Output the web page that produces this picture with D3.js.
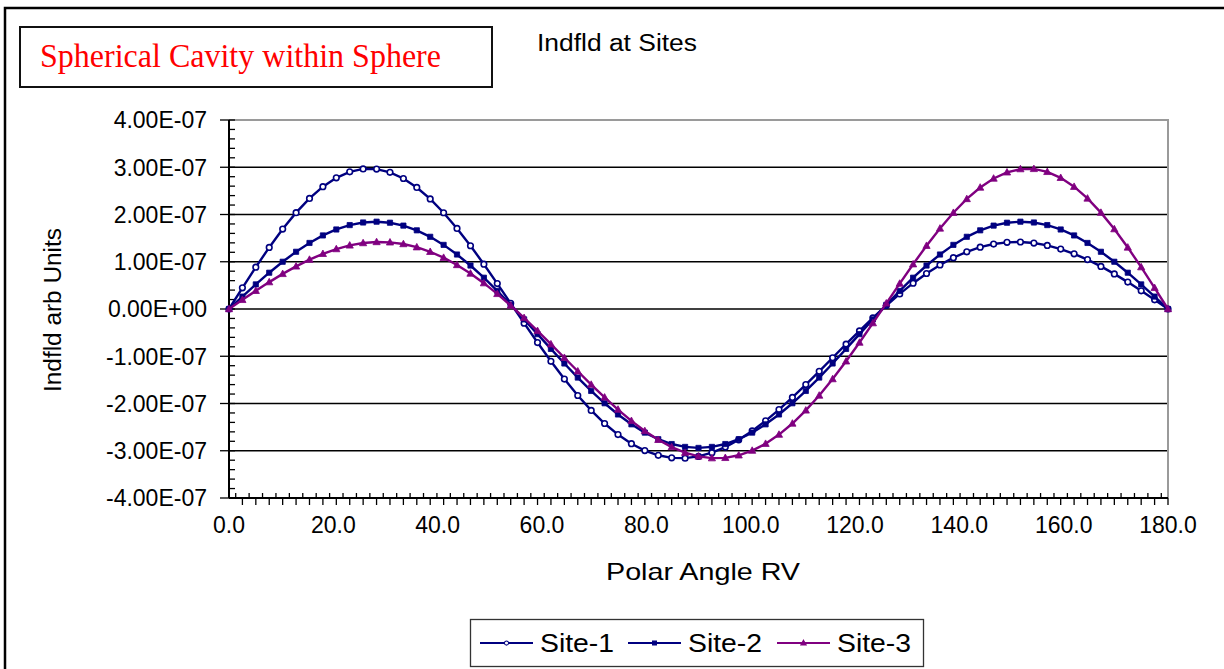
<!DOCTYPE html>
<html>
<head>
<meta charset="utf-8">
<script src="https://cdn.jsdelivr.net/npm/d3@7"></script>
<style>
    html, body { margin: 0; padding: 0; background: #fff; }
    #chart { width: 1224px; height: 669px; }
    text { font-family: "Liberation Sans", Arial, sans-serif; fill: #000; }
</style>
</head>
<body>
<div id="chart"></div>
<script>

// polar angle (degrees)
const angles = [0, 2.57, 5.14, 7.71, 10.29, 12.86, 15.43, 18, 20.57, 23.14, 25.71, 28.29, 30.86, 33.43, 36,
    38.57, 41.14, 43.71, 46.29, 48.86, 51.43, 54, 56.57, 59.14, 61.71, 64.29, 66.86, 69.43, 72, 74.57, 77.14,
    79.71, 82.29, 84.86, 87.43, 90, 92.57, 95.14, 97.71, 100.29, 102.86, 105.43, 108, 110.57, 113.14, 115.71,
    118.29, 120.86, 123.43, 126, 128.57, 131.14, 133.71, 136.29, 138.86, 141.43, 144, 146.57, 149.14, 151.71,
    154.29, 156.86, 159.43, 162, 164.57, 167.14, 169.71, 172.29, 174.86, 177.43, 180];

// Indfld values, in units of 1E-07
const site1 = [0, 0.448, 0.886, 1.303, 1.691, 2.039, 2.340, 2.588, 2.777, 2.903, 2.965, 2.961, 2.893, 2.762,
    2.572, 2.329, 2.037, 1.705, 1.339, 0.948, 0.538, 0.120, -0.299, -0.710, -1.107, -1.483, -1.831, -2.146,
    -2.423, -2.658, -2.851, -2.997, -3.096, -3.150, -3.157, -3.120, -3.041, -2.922, -2.768, -2.581, -2.367,
    -2.128, -1.871, -1.600, -1.318, -1.032, -0.745, -0.463, -0.188, 0.074, 0.320, 0.547, 0.751, 0.932, 1.086,
    1.211, 1.308, 1.375, 1.411, 1.418, 1.396, 1.346, 1.269, 1.168, 1.045, 0.902, 0.743, 0.569, 0.385, 0.194, 0];

const site2 = [0, 0.263, 0.521, 0.768, 1.000, 1.211, 1.398, 1.557, 1.683, 1.776, 1.831, 1.848, 1.826, 1.765,
    1.665, 1.528, 1.357, 1.153, 0.920, 0.662, 0.382, 0.087, -0.220, -0.532, -0.845, -1.153, -1.451, -1.734,
    -1.995, -2.232, -2.441, -2.616, -2.756, -2.858, -2.919, -2.940, -2.919, -2.858, -2.756, -2.616, -2.441,
    -2.232, -1.995, -1.734, -1.451, -1.153, -0.845, -0.532, -0.220, 0.087, 0.382, 0.662, 0.920, 1.153, 1.357,
    1.528, 1.665, 1.765, 1.826, 1.848, 1.831, 1.776, 1.683, 1.557, 1.398, 1.211, 1.000, 0.768, 0.521, 0.263, 0];

const site3 = [0, 0.194, 0.385, 0.569, 0.743, 0.902, 1.045, 1.168, 1.269, 1.346, 1.396, 1.418, 1.411, 1.375,
    1.308, 1.211, 1.086, 0.932, 0.751, 0.547, 0.320, 0.074, -0.188, -0.463, -0.745, -1.032, -1.318, -1.600,
    -1.871, -2.128, -2.367, -2.581, -2.768, -2.922, -3.041, -3.120, -3.157, -3.150, -3.096, -2.997, -2.851,
    -2.658, -2.423, -2.146, -1.831, -1.483, -1.107, -0.710, -0.299, 0.120, 0.538, 0.948, 1.339, 1.705, 2.037,
    2.329, 2.572, 2.762, 2.893, 2.961, 2.965, 2.903, 2.777, 2.588, 2.340, 2.039, 1.691, 1.303, 0.886, 0.448, 0];

const seriesNames = ["Site-1", "Site-2", "Site-3"];

const yTickValues = [4, 3, 2, 1, 0, -1, -2, -3, -4];
const yTickLabels = ["4.00E-07", "3.00E-07", "2.00E-07", "1.00E-07", "0.00E+00",
    "-1.00E-07", "-2.00E-07", "-3.00E-07", "-4.00E-07"];
const xTickValues = [0, 20, 40, 60, 80, 100, 120, 140, 160, 180];
const xTickLabels = ["0.0", "20.0", "40.0", "60.0", "80.0", "100.0", "120.0", "140.0", "160.0", "180.0"];


class SitesLineVis
{
    constructor(parentElement)
    {
        this.parentElement = parentElement;
        this.initVis();
    }

    initVis()
    {
        let vis = this;
        vis.plot = {left: 229, right: 1168, top: 120, bottom: 498};

        vis.svg = d3.select(vis.parentElement)
            .append("svg")
            .attr("width", 1224)
            .attr("height", 669);

        // outer chart border (runs off the right and bottom of the picture)
        vis.svg.append("rect")
            .attr("x", 5).attr("y", 8)
            .attr("width", 1260).attr("height", 720)
            .attr("fill", "#fff")
            .attr("stroke", "#000")
            .attr("stroke-width", 2.5);

        // title box
        vis.svg.append("rect")
            .attr("x", 20).attr("y", 27)
            .attr("width", 472).attr("height", 60)
            .attr("fill", "#fff")
            .attr("stroke", "#111")
            .attr("stroke-width", 2);

        vis.svg.append("text")
            .attr("x", 40).attr("y", 67)
            .attr("textLength", 401)
            .attr("lengthAdjust", "spacingAndGlyphs")
            .style("font-family", "'Liberation Serif', 'Times New Roman', serif")
            .style("font-size", "34px")
            .style("fill", "#ff0000")
            .text("Spherical Cavity within Sphere");

        vis.svg.append("text")
            .attr("x", 537).attr("y", 51)
            .attr("textLength", 160)
            .attr("lengthAdjust", "spacingAndGlyphs")
            .style("font-size", "23px")
            .text("Indfld at Sites");

        vis.xScale = d3.scaleLinear()
            .domain([0, 180])
            .range([vis.plot.left, vis.plot.right]);

        vis.yScale = d3.scaleLinear()
            .domain([-4, 4])
            .range([vis.plot.bottom, vis.plot.top]);

        vis.wrangleData();
    }

    wrangleData()
    {
        let vis = this;
        let values = [site1, site2, site3];
        vis.displayData = seriesNames.map((name, k) => ({
            name: name,
            points: angles.map((a, i) => ({x: a, y: values[k][i]}))
        }));
        vis.updateVis();
    }

    updateVis()
    {
        let vis = this;
        let p = vis.plot;

        // gridlines
        vis.svg.append("g")
            .selectAll("line")
            .data(yTickValues.filter(d => d > -4 && d < 4))
            .enter()
            .append("line")
            .attr("x1", p.left).attr("x2", p.right)
            .attr("y1", d => vis.yScale(d)).attr("y2", d => vis.yScale(d))
            .attr("stroke", "#000")
            .attr("stroke-width", 1.3);

        // plot area frame (top + right)
        vis.svg.append("path")
            .attr("d", `M${p.left},${p.top}H${p.right}V${p.bottom}`)
            .attr("fill", "none")
            .attr("stroke", "#9a9a9a")
            .attr("stroke-width", 2);

        // y axis
        let yAxis = vis.svg.append("g").attr("class", "y-axis");
        let minorY = d3.range(-40, 41, 2).map(d => d / 10).filter(d => !Number.isInteger(d));
        yAxis.selectAll(".minor")
            .data(minorY)
            .enter()
            .append("line")
            .attr("x1", p.left).attr("x2", p.left + 6)
            .attr("y1", d => vis.yScale(d)).attr("y2", d => vis.yScale(d))
            .attr("stroke", "#000").attr("stroke-width", 1.3);
        yAxis.selectAll(".major")
            .data(yTickValues)
            .enter()
            .append("line")
            .attr("x1", p.left - 9).attr("x2", p.left + 6)
            .attr("y1", d => vis.yScale(d)).attr("y2", d => vis.yScale(d))
            .attr("stroke", "#000").attr("stroke-width", 1.3);
        yAxis.selectAll("text")
            .data(yTickValues)
            .enter()
            .append("text")
            .attr("x", 207)
            .attr("y", d => vis.yScale(d))
            .attr("dy", "0.36em")
            .attr("text-anchor", "end")
            .style("font-size", "23px")
            .text((d, i) => yTickLabels[i]);
        yAxis.append("line")
            .attr("x1", p.left).attr("x2", p.left)
            .attr("y1", p.top).attr("y2", p.bottom)
            .attr("stroke", "#000").attr("stroke-width", 2);

        // x axis
        let xAxis = vis.svg.append("g").attr("class", "x-axis");
        let xMinor = d3.range(1, 141).map(k => k * 180 / 140);
        xAxis.selectAll(".tick")
            .data(xMinor)
            .enter()
            .append("line")
            .attr("x1", d => vis.xScale(d)).attr("x2", d => vis.xScale(d))
            .attr("y1", (d, i) => i % 2 === 0 ? p.bottom - 5 : p.bottom)
            .attr("y2", (d, i) => i % 2 === 0 ? p.bottom : p.bottom + 7)
            .attr("stroke", "#000").attr("stroke-width", 1.3);
        xAxis.append("line")
            .attr("x1", p.left).attr("x2", p.right)
            .attr("y1", p.bottom).attr("y2", p.bottom)
            .attr("stroke", "#000").attr("stroke-width", 2);
        xAxis.selectAll("text")
            .data(xTickValues)
            .enter()
            .append("text")
            .attr("x", d => vis.xScale(d))
            .attr("y", 533)
            .attr("text-anchor", "middle")
            .style("font-size", "23px")
            .text((d, i) => xTickLabels[i]);

        // axis titles
        vis.svg.append("text")
            .attr("x", 703).attr("y", 580)
            .attr("text-anchor", "middle")
            .attr("textLength", 194)
            .attr("lengthAdjust", "spacingAndGlyphs")
            .style("font-size", "24px")
            .text("Polar Angle RV");

        vis.svg.append("text")
            .attr("transform", "translate(61,310) rotate(-90)")
            .attr("text-anchor", "middle")
            .attr("textLength", 164)
            .attr("lengthAdjust", "spacingAndGlyphs")
            .style("font-size", "23px")
            .text("Indfld arb Units");

        // series
        vis.colors = {"Site-1": "#000080", "Site-2": "#000080", "Site-3": "#800080"};
        let line = d3.line()
            .x(d => vis.xScale(d.x))
            .y(d => vis.yScale(d.y));

        let series = vis.svg.selectAll(".series")
            .data(vis.displayData)
            .enter()
            .append("g")
            .attr("class", "series");

        series.append("path")
            .attr("d", d => line(d.points))
            .attr("fill", "none")
            .attr("stroke", d => vis.colors[d.name])
            .attr("stroke-width", 2.4);

        series.each(function (s)
        {
            vis.drawMarkers(d3.select(this), s.name, s.points.map(d => [vis.xScale(d.x), vis.yScale(d.y)]));
        });

        vis.createLegend();
    }

    drawMarkers(g, name, pts)
    {
        let vis = this;
        let col = vis.colors[name];
        g.selectAll(".marker")
            .data(pts)
            .enter()
            .append("path")
            .attr("class", "marker")
            .attr("transform", d => `translate(${d[0]},${d[1]})`)
            .attr("d", vis.markerPath(name))
            .attr("fill", name === "Site-1" ? "#fff" : col)
            .attr("stroke", col)
            .attr("stroke-width", name === "Site-1" ? 1.6 : 0.8);
    }

    markerPath(name)
    {
        if (name === "Site-1") return "M-2.8,0A2.8,2.8 0 1,0 2.8,0A2.8,2.8 0 1,0 -2.8,0Z";
        if (name === "Site-2") return "M-2.6,-2.6H2.6V2.6H-2.6Z";
        return "M0,-3.8L3.6,2.7H-3.6Z";
    }

    createLegend()
    {
        let vis = this;
        let legend = vis.svg.append("g").attr("class", "legend");

        legend.append("rect")
            .attr("x", 470.5).attr("y", 619.5)
            .attr("width", 453).attr("height", 47)
            .attr("fill", "#fff")
            .attr("stroke", "#333")
            .attr("stroke-width", 1.3);

        let starts = [480, 628, 777];
        seriesNames.forEach((name, i) =>
        {
            let x0 = starts[i];
            let cy = 643;
            legend.append("line")
                .attr("x1", x0).attr("x2", x0 + 53)
                .attr("y1", cy).attr("y2", cy)
                .attr("stroke", vis.colors[name])
                .attr("stroke-width", 2);
            legend.append("path")
                .attr("transform", `translate(${x0 + 26.5},${cy}) scale(0.75)`)
                .attr("d", vis.markerPath(name))
                .attr("fill", name === "Site-1" ? "#fff" : vis.colors[name])
                .attr("stroke", vis.colors[name])
                .attr("stroke-width", 1.4);
            legend.append("text")
                .attr("x", x0 + 60).attr("y", 652)
                .attr("textLength", 74)
                .attr("lengthAdjust", "spacingAndGlyphs")
                .style("font-size", "26px")
                .text(name);
        });
    }
}

new SitesLineVis(document.getElementById("chart"));

</script>
</body>
</html>
